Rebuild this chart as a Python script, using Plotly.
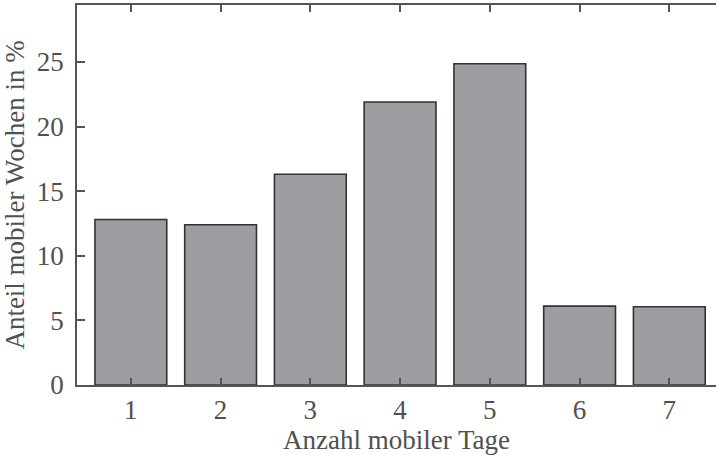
import plotly.graph_objects as go

categories = [1, 2, 3, 4, 5, 6, 7]
values = [12.8, 12.4, 16.3, 21.9, 24.85, 6.1, 6.05]
y_ticks = [0, 5, 10, 15, 20, 25]
x_title = "Anzahl mobiler Tage"
y_title = "Anteil mobiler Wochen in %"

FONT = "Liberation Serif"
AX = "rgb(85,85,85)"
TXT = "rgb(80,80,80)"

fig = go.Figure()
fig.add_trace(go.Bar(
    x=categories, y=values, width=0.8,
    marker=dict(color="rgb(157,158,162)", line=dict(color="rgb(50,50,50)", width=1.6)),
    showlegend=False,
))

yr = [0, 29.4]
fig.update_layout(
    width=716, height=455,
    margin=dict(l=77, r=0, t=5, b=70),
    paper_bgcolor="white", plot_bgcolor="white",
    font=dict(family=FONT, size=27, color=TXT),
    bargap=0.2,
    xaxis=dict(
        range=[0.4, 7.52], tickvals=categories, ticktext=[str(c) for c in categories],
        ticks="inside", ticklen=7, tickwidth=1.5, tickcolor=AX,
        showline=True, linecolor=AX, linewidth=1.5, mirror="ticks",
        showgrid=False, zeroline=False,
        title=dict(text=x_title, standoff=4, font=dict(size=27, color=TXT)),
        tickfont=dict(size=27, color=TXT),
    ),
    yaxis=dict(
        range=yr, tickvals=y_ticks,
        ticks="inside", ticklen=8, tickwidth=1.5, tickcolor=AX,
        showline=True, linecolor=AX, linewidth=1.5, mirror=False,
        showgrid=False, zeroline=False,
        ticklabelstandoff=6,
        title=dict(text=y_title, standoff=10, font=dict(size=27, color=TXT)),
        tickfont=dict(size=27, color=TXT),
    ),
    yaxis2=dict(
        range=yr, tickvals=y_ticks, overlaying="y", anchor="free", position=1, side="right",
        ticks="inside", ticklen=2, tickwidth=1.5, tickcolor="rgb(150,150,150)",
        showline=False, showticklabels=False, showgrid=False, zeroline=False,
    ),
)

fig.write_html("out.html")
